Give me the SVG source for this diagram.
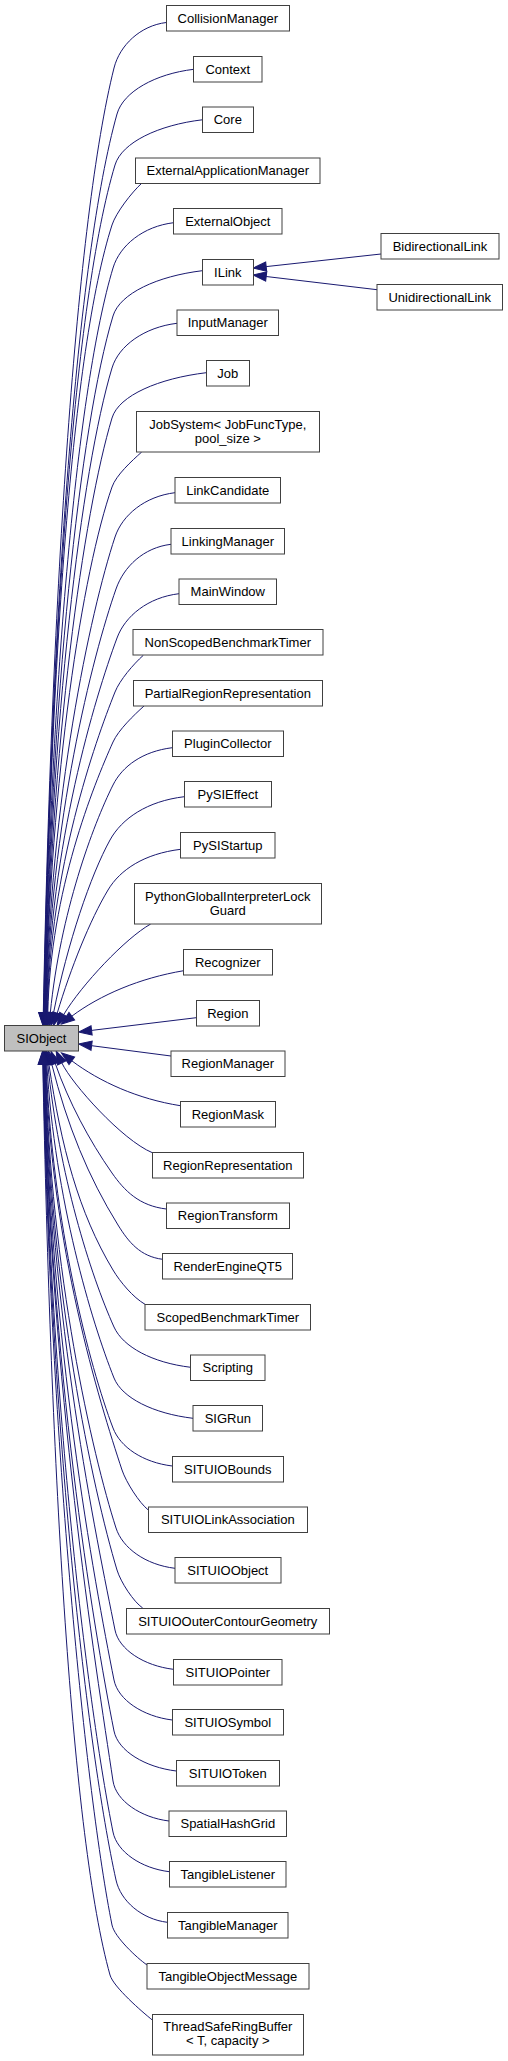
<svg xmlns="http://www.w3.org/2000/svg" width="508" height="2061" viewBox="0 0 508 2061">
<style>
.n rect{fill:#ffffff;stroke:#404040;stroke-width:1}
.n.root rect{fill:#bfbfbf}
.n text{font-family:"Liberation Sans",Arial,sans-serif;font-size:13px;fill:#000;text-anchor:middle}
.e path{fill:none;stroke:#191970;stroke-width:1;marker-end:url(#ah)}
</style>
<defs>
<marker id="ah" markerUnits="userSpaceOnUse" viewBox="0 0 13 10" markerWidth="13" markerHeight="10" refX="0" refY="5" orient="auto" overflow="visible">
<path d="M0,0.3 L13,5 L0,9.7 Z" fill="#191970" stroke="#191970" stroke-width="1"/>
</marker>
</defs>
<rect width="508" height="2061" fill="#ffffff"/>
<g class="e" id="edges">
<path d="M166.3,22.5 C140.3,25.6 119.7,45.3 114,68 C76.2,219 51.8,587.7 43.3,1012.7"/>
<path d="M193.7,69.3 C155.3,73.9 123.3,91.6 117,114 C76.7,257.8 51.7,608.3 43.6,1012.7"/>
<path d="M202.3,119.8 C158.6,125 121.8,142.4 115,165 C74.3,300.6 51.5,631.2 43.9,1012.7"/>
<path d="M141.7,183.3 C131.7,192.3 115.8,213 112,225 C71.7,351 51.3,658.2 44.2,1012.7"/>
<path d="M173.7,222.7 C143.3,226.3 119.8,245.3 113,268 C77.3,387 51.2,677.7 44.5,1012.7"/>
<path d="M202.3,270.7 C157.6,276.1 119.8,293.3 113,316 C79.5,427.5 51.1,699.2 44.8,1012.7"/>
<path d="M177,323.3 C144.5,327.2 118.7,345.6 112,368 C81.1,471 50.9,722.7 45.1,1012.7"/>
<path d="M206.3,372.7 C159.3,378.3 118.8,395.3 112,418 C83.5,513 50.8,745.1 45.4,1012.7"/>
<path d="M141.7,452 C131.7,461 116.2,475 112,487 C82.6,571 50.4,776.1 45.7,1012.7"/>
<path d="M175,492.7 C145,496.3 122.3,515 115,537 C89.9,613 50.3,798.7 46,1012.7"/>
<path d="M171,544.3 C143.5,547.6 123.8,566.6 116,589 C92.3,656.8 50.2,822 46.4,1012.7"/>
<path d="M179,593.7 C148,597.4 125.1,616 117,638 C94.8,698 50.2,844.1 46.8,1012.7"/>
<path d="M143.3,655.3 C133.3,664.3 119.8,680 115,692 C94.6,743 50.2,868.7 47.3,1012.7"/>
<path d="M144,706 C134,715 118.4,730 113,742 C93.7,785 50.5,890.7 47.8,1012.7"/>
<path d="M172.3,747.7 C142.6,751.3 122.3,766.3 113,785 C93,825 60.3,912.8 50.3,1012.8"/>
<path d="M184.3,796.7 C147.3,801.1 121.9,818.4 110,840 C90.7,875 67.5,943 53.5,1013"/>
<path d="M180.7,849.3 C144.3,853.7 120.2,869.6 108,890 C90,920 70.7,968.2 57.2,1013.2"/>
<path d="M150.7,924 C125.7,938 81.7,984.6 63.7,1014.6"/>
<path d="M183.7,970.7 C140,978 100,995 71.8,1016.2"/>
<path d="M196.3,1017.7 L91.6,1030.4"/>
<path d="M171,1056 L91.6,1045.7"/>
<path d="M180.3,1105.7 C138,1099 100,1082 71.8,1060.8"/>
<path d="M152.3,1152.7 C122,1140 72,1084 61.8,1062.9"/>
<path d="M166.3,1209 C139.3,1205.8 124.6,1191 112,1173 C88.9,1140 68.6,1101.6 55.3,1063.6"/>
<path d="M162.7,1259.3 C140.3,1256.6 128.5,1242 118,1225 C88.2,1177 67,1124.9 51.7,1063.9"/>
<path d="M145,1304.3 C133,1297.3 120.2,1282 113,1270 C78.4,1212.4 61.2,1146.5 48.9,1064.2"/>
<path d="M190.7,1367.3 C152.3,1362.7 123,1347 114,1327 C90.3,1274.4 58.8,1174.2 47.8,1064.2"/>
<path d="M193,1418.3 C153.5,1413.6 122,1398 114,1378 C91.4,1321.5 54.9,1199.3 46.8,1064.3"/>
<path d="M172.3,1466 C142.6,1462.4 120.2,1447 113,1428 C89.4,1366 52.5,1224.3 46.1,1064.3"/>
<path d="M148.3,1510 C139.3,1503 126,1482 122,1470 C99.2,1401 51.2,1246.9 45.7,1064.3"/>
<path d="M175,1568.3 C145.5,1564.8 122.4,1548 116,1528 C92.3,1454 50.6,1273 45.4,1064.3"/>
<path d="M142.7,1608 C133.7,1602 120.6,1582 117,1570 C92.7,1489 50.1,1291.9 45.1,1064.3"/>
<path d="M173.3,1669.3 C144.3,1665.8 118.9,1649.7 115,1630 C96.9,1539.5 49.9,1318.9 44.8,1064.3"/>
<path d="M172.3,1720 C143.3,1716.5 118,1700 114,1680 C94.3,1581.5 50,1341.3 44.5,1064.3"/>
<path d="M176.3,1771 C145.3,1767.3 118,1751 114,1731 C92.7,1624.3 50.2,1364.3 44.2,1064.3"/>
<path d="M169,1821 C141,1817.6 116,1801 113,1781 C95.8,1666.3 50.4,1386.8 43.9,1064.3"/>
<path d="M169.3,1871.7 C141.3,1868.3 117,1852 113,1832 C88.4,1709.2 50.6,1409.8 43.7,1064.3"/>
<path d="M167.3,1922.3 C141.7,1919.2 120.6,1901 116,1880 C87.3,1749.5 50.7,1431.3 43.4,1064.3"/>
<path d="M147,1965 C137,1958 114.4,1937 112,1925 C86.2,1796 50.8,1451.3 43.1,1064.3"/>
<path d="M152.3,2020 C142.3,2012 113.4,1987 110,1975 C71.8,1838.4 51,1474.3 42.8,1064.3"/>
<path d="M381,254 L266.2,266.6"/>
<path d="M377,289.7 L266.2,276.5"/>
</g>
<g class="n" id="CollisionManager"><rect x="166.5" y="5.5" width="123" height="25.5"/><text x="227.8" y="22.7">CollisionManager</text></g>
<g class="n" id="Context"><rect x="193.5" y="56.5" width="68.5" height="25.5"/><text x="227.8" y="73.5">Context</text></g>
<g class="n" id="Core"><rect x="202.5" y="107" width="51" height="25.5"/><text x="227.8" y="124">Core</text></g>
<g class="n" id="ExternalApplicationManager"><rect x="135.5" y="158" width="184.5" height="25.5"/><text x="227.8" y="175">ExternalApplicationManager</text></g>
<g class="n" id="ExternalObject"><rect x="173.5" y="208.5" width="108.5" height="25.5"/><text x="227.8" y="225.5">ExternalObject</text></g>
<g class="n" id="ILink"><rect x="202.5" y="259.5" width="51" height="25.5"/><text x="227.8" y="276.5">ILink</text></g>
<g class="n" id="BidirectionalLink"><rect x="381" y="233.5" width="118" height="25.5"/><text x="440" y="250.5">BidirectionalLink</text></g>
<g class="n" id="UnidirectionalLink"><rect x="377" y="284.5" width="125.5" height="25.5"/><text x="439.8" y="301.5">UnidirectionalLink</text></g>
<g class="n" id="InputManager"><rect x="177" y="310" width="101.5" height="25.5"/><text x="227.8" y="327">InputManager</text></g>
<g class="n" id="Job"><rect x="206.5" y="360.5" width="43" height="25.5"/><text x="227.8" y="377.5">Job</text></g>
<g class="n" id="JobSystem"><rect x="136.5" y="411.5" width="183" height="40.5"/><text x="227.8" y="429">JobSystem&lt; JobFuncType,</text><text x="227.8" y="443.3">pool_size &gt;</text></g>
<g class="n" id="LinkCandidate"><rect x="175" y="477.5" width="105.5" height="25.5"/><text x="227.8" y="494.5">LinkCandidate</text></g>
<g class="n" id="LinkingManager"><rect x="171" y="528.5" width="113.5" height="25.5"/><text x="227.8" y="545.5">LinkingManager</text></g>
<g class="n" id="MainWindow"><rect x="179" y="579" width="97.5" height="25.5"/><text x="227.8" y="596">MainWindow</text></g>
<g class="n" id="NonScopedBenchmarkTimer"><rect x="133" y="629.5" width="190" height="25.5"/><text x="227.8" y="646.5">NonScopedBenchmarkTimer</text></g>
<g class="n" id="PartialRegionRepresentation"><rect x="133.5" y="680.5" width="189" height="25.5"/><text x="227.8" y="697.5">PartialRegionRepresentation</text></g>
<g class="n" id="PluginCollector"><rect x="172.5" y="731" width="111" height="25.5"/><text x="227.8" y="748">PluginCollector</text></g>
<g class="n" id="PySIEffect"><rect x="184.5" y="781.5" width="87" height="25.5"/><text x="227.8" y="798.5">PySIEffect</text></g>
<g class="n" id="PySIStartup"><rect x="180.5" y="832.5" width="94.5" height="25.5"/><text x="227.8" y="849.5">PySIStartup</text></g>
<g class="n" id="PythonGlobalInterpreterLockGuard"><rect x="134.5" y="883.5" width="187" height="40.5"/><text x="227.8" y="900.7">PythonGlobalInterpreterLock</text><text x="227.8" y="915">Guard</text></g>
<g class="n" id="Recognizer"><rect x="183.5" y="949.5" width="89" height="25.5"/><text x="227.8" y="966.5">Recognizer</text></g>
<g class="n" id="Region"><rect x="196.5" y="1000.5" width="63" height="25.5"/><text x="227.8" y="1017.5">Region</text></g>
<g class="n root" id="SIObject"><rect x="4.5" y="1025.5" width="74" height="25.5"/><text x="41.5" y="1042.5">SIObject</text></g>
<g class="n" id="RegionManager"><rect x="171" y="1051" width="114" height="25.5"/><text x="227.8" y="1068">RegionManager</text></g>
<g class="n" id="RegionMask"><rect x="180.5" y="1101.5" width="95" height="25.5"/><text x="227.8" y="1118.5">RegionMask</text></g>
<g class="n" id="RegionRepresentation"><rect x="152.5" y="1152.5" width="151" height="25.5"/><text x="227.8" y="1169.5">RegionRepresentation</text></g>
<g class="n" id="RegionTransform"><rect x="166.5" y="1203" width="123" height="25.5"/><text x="227.8" y="1220">RegionTransform</text></g>
<g class="n" id="RenderEngineQT5"><rect x="162.5" y="1253.5" width="130" height="25.5"/><text x="227.8" y="1270.5">RenderEngineQT5</text></g>
<g class="n" id="ScopedBenchmarkTimer"><rect x="145" y="1304.5" width="165.5" height="25.5"/><text x="227.8" y="1321.5">ScopedBenchmarkTimer</text></g>
<g class="n" id="Scripting"><rect x="190.5" y="1355" width="74.5" height="25.5"/><text x="227.8" y="1372">Scripting</text></g>
<g class="n" id="SIGRun"><rect x="193" y="1405.5" width="69.5" height="25.5"/><text x="227.8" y="1422.5">SIGRun</text></g>
<g class="n" id="SITUIOBounds"><rect x="172.5" y="1456.5" width="111" height="25.5"/><text x="227.8" y="1473.5">SITUIOBounds</text></g>
<g class="n" id="SITUIOLinkAssociation"><rect x="148.5" y="1507" width="159" height="25.5"/><text x="227.8" y="1524">SITUIOLinkAssociation</text></g>
<g class="n" id="SITUIOObject"><rect x="175" y="1557.5" width="106" height="25.5"/><text x="227.8" y="1574.5">SITUIOObject</text></g>
<g class="n" id="SITUIOOuterContourGeometry"><rect x="126.5" y="1608.5" width="203" height="25.5"/><text x="227.8" y="1625.5">SITUIOOuterContourGeometry</text></g>
<g class="n" id="SITUIOPointer"><rect x="173.5" y="1659.5" width="108.5" height="25.5"/><text x="227.8" y="1676.5">SITUIOPointer</text></g>
<g class="n" id="SITUIOSymbol"><rect x="172.5" y="1709.5" width="111" height="25.5"/><text x="227.8" y="1726.5">SITUIOSymbol</text></g>
<g class="n" id="SITUIOToken"><rect x="176.5" y="1760.5" width="103" height="25.5"/><text x="227.8" y="1777.5">SITUIOToken</text></g>
<g class="n" id="SpatialHashGrid"><rect x="169" y="1811" width="117.5" height="25.5"/><text x="227.8" y="1828">SpatialHashGrid</text></g>
<g class="n" id="TangibleListener"><rect x="169.5" y="1861.5" width="116.5" height="25.5"/><text x="227.8" y="1878.5">TangibleListener</text></g>
<g class="n" id="TangibleManager"><rect x="167.5" y="1912.5" width="120.5" height="25.5"/><text x="227.8" y="1929.5">TangibleManager</text></g>
<g class="n" id="TangibleObjectMessage"><rect x="147" y="1963.5" width="162" height="25.5"/><text x="227.8" y="1980.5">TangibleObjectMessage</text></g>
<g class="n" id="ThreadSafeRingBuffer"><rect x="152.5" y="2014.5" width="151" height="40.5"/><text x="227.8" y="2031">ThreadSafeRingBuffer</text><text x="227.8" y="2045.3">&lt; T, capacity &gt;</text></g>
</svg>
